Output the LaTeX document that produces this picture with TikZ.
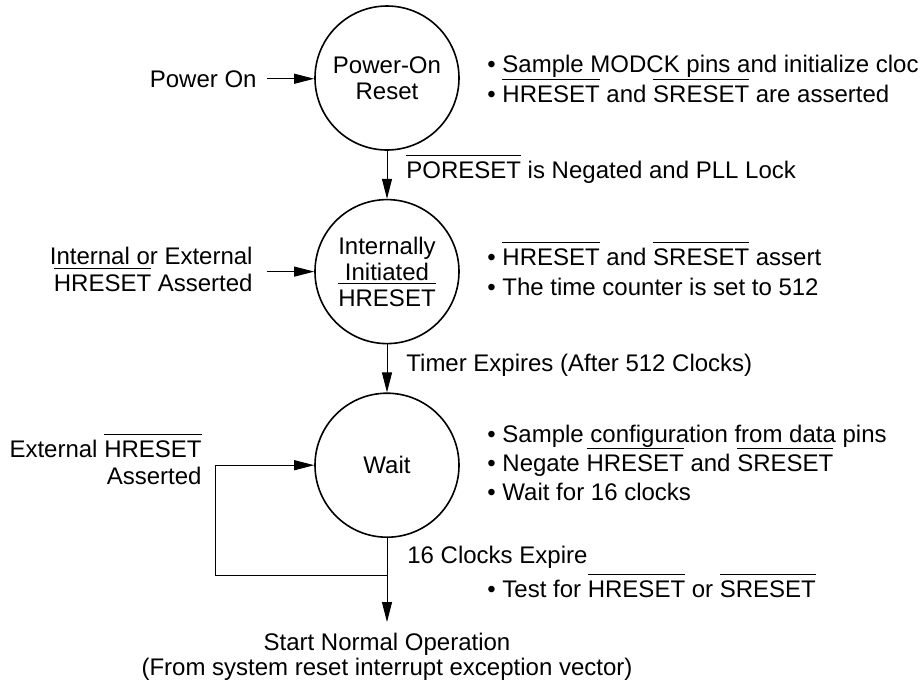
\documentclass[tikz,border=0pt]{standalone}
\usepackage{fontspec}
\setmainfont{Liberation Sans}
\usepackage{tikz}
\usetikzlibrary{
    arrows.meta,
    positioning,
    calc
}
\tikzset{
  stt/.style  = {draw, circle, line width=0.8pt, minimum size=72pt,
                 inner sep=0pt, align=center, font=\fontsize{12}{13}\selectfont},
  lbl/.style  = {inner sep=0pt, font=\fontsize{12}{13.5}\selectfont},
  arr/.style  = {-{Triangle[length=10pt,width=5pt]}, line width=0.5pt}
}
\newcommand{\ovl}[1]{\leavevmode\vbox{\hrule height 0.6pt\kern 2.6pt\hbox{#1}}}

\begin{document}
\begin{tikzpicture}[x=0.5pt, y=-0.5pt]
\useasboundingbox (0,0) rectangle (922,682);
% states
\node[stt] (por) at (387,78) {Power-On\\Reset};
\node[stt, below=24pt of por] (ii) {Internally\\Initiated\\\ovl{HRESET}};
\node[stt, below=24pt of ii] (wt) {Wait};
% inputs
\node[lbl, anchor=base east] (pon) at (257,87) {Power On};
\node[lbl, align=right, anchor=south east] (iex) at (253,292)
  {Internal or External\\\ovl{HRESET} Asserted};
\node[lbl, align=right, anchor=south east] (ext) at (202,485)
  {External \ovl{HRESET}\\Asserted};
% actions
\foreach \t [count=\i from 0] in {{Sample MODCK pins and initialize cloc},
    {\ovl{HRESET} and \ovl{SRESET} are asserted}}
  \node[lbl, anchor=base west] (pa\i) at (487,72+30*\i) {\textbullet\ \t};
\foreach \t [count=\i from 0] in {{\ovl{HRESET} and \ovl{SRESET} assert},
    {The time counter is set to 512}}
  \node[lbl, anchor=base west] (ia\i) at (487,265+30*\i) {\textbullet\ \t};
\foreach \t [count=\i from 0] in {{Sample configuration from data pins},
    {Negate \ovl{HRESET} and \ovl{SRESET}}, {Wait for 16 clocks}}
  \node[lbl, anchor=base west] (wa\i) at (487,442+29*\i) {\textbullet\ \t};
% transitions
\node[lbl, anchor=base west] (neg) at (406,178) {\ovl{PORESET} is Negated and PLL Lock};
\node[lbl, anchor=base west] (tmr) at (406,371) {Timer Expires (After 512 Clocks)};
\node[lbl, anchor=base west] (clk) at (407,563) {16 Clocks Expire};
\node[lbl, anchor=base west] (tst) at (487,597)
  {\textbullet\ Test for \ovl{HRESET} or \ovl{SRESET}};
\node[lbl, align=center, anchor=north, font=\fontsize{12}{12.5}\selectfont] (run) at (387,633)
  {Start Normal Operation\\(From system reset interrupt exception vector)};
% connectors
\draw[arr, shorten <=5pt] (pon.east) -- (pon.east -| por.west);
\draw[arr, shorten <=7pt] (iex.east |- ii.west) -- (ii.west);
\draw[arr] (por) -- (ii);
\draw[arr] (ii) -- (wt);
\coordinate (j) at (387,575);
\coordinate (lp) at (215,575);
\draw[arr, shorten >=5.5pt] (wt) -- (run);
\draw[arr] (j) -- (lp) |- (wt.west);
\end{tikzpicture}
\end{document}
